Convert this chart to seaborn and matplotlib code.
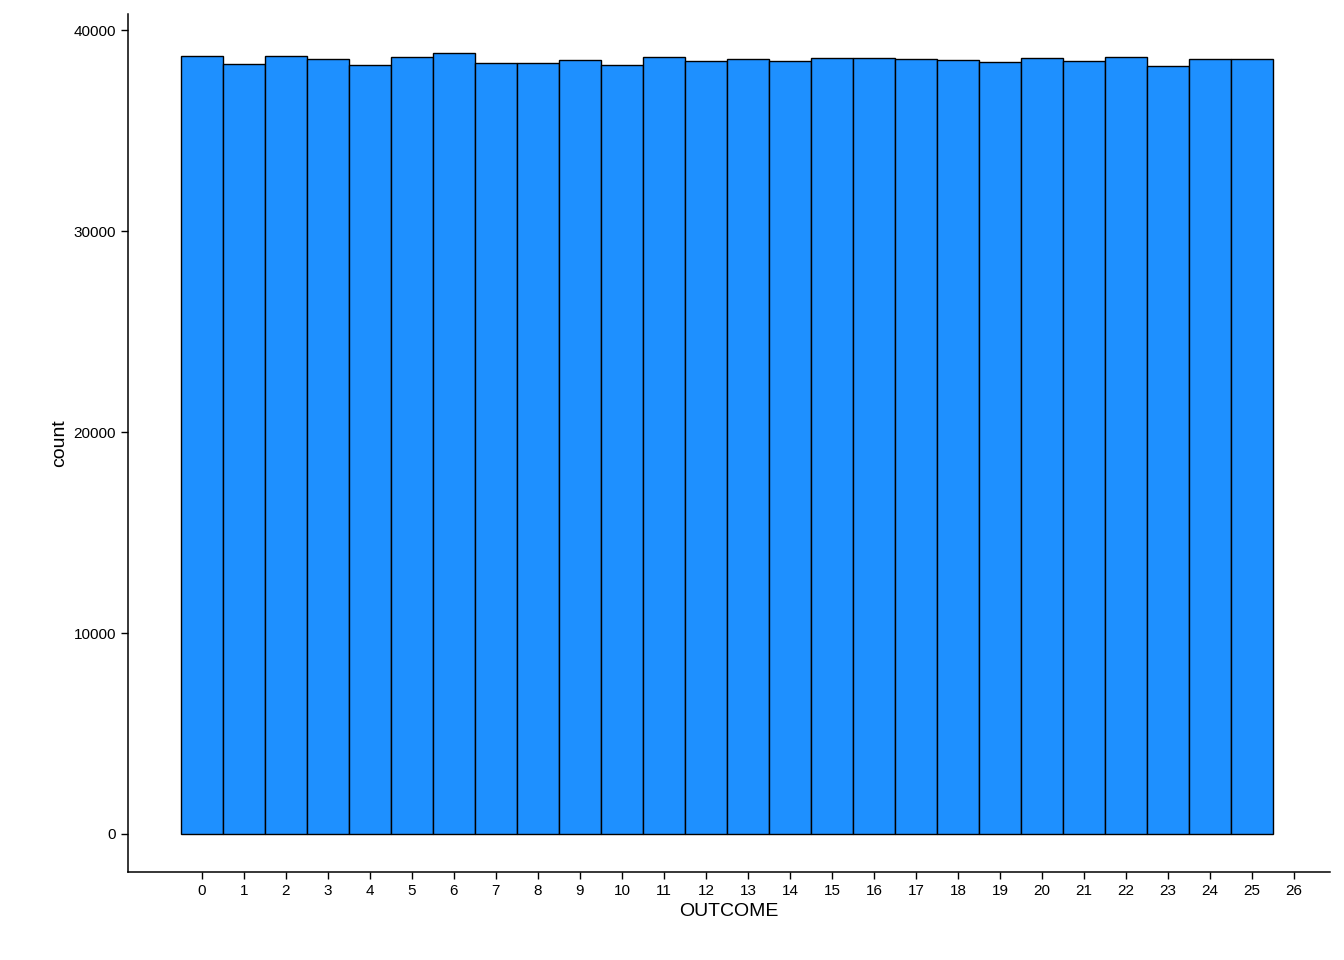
import matplotlib
matplotlib.use("Agg")
import matplotlib.pyplot as plt
import seaborn as sns
import pandas as pd

outcomes = list(range(26))
counts = [38706, 38308, 38706, 38557, 38259, 38657, 38856, 38358, 38358, 38507,
          38259, 38657, 38458, 38557, 38458, 38607, 38607, 38557, 38507, 38408,
          38607, 38458, 38657, 38209, 38557, 38557]
xticks = list(range(27))
yticks = [0, 10000, 20000, 30000, 40000]

sns.set_style("white")
plt.rcParams['font.family'] = ['Liberation Sans', 'DejaVu Sans']

df = pd.DataFrame({"OUTCOME": outcomes, "count": counts})
fig = plt.figure(figsize=(13.44, 9.6), dpi=100)
ax = fig.add_axes([0.0952, 0.0917, 0.8944, 0.8937])
sns.histplot(data=df, x="OUTCOME", weights="count", discrete=True, ax=ax,
             color="#1E90FF", edgecolor="black", linewidth=1, alpha=1)
ax.set_xlim(-1.76, 26.86)
ax.set_ylim(-1890, 40800)
ax.set_xticks(xticks)
ax.set_yticks(yticks)
ax.set_yticklabels([str(v) for v in yticks])
for s in ["top", "right"]:
    ax.spines[s].set_visible(False)
for s in ["left", "bottom"]:
    ax.spines[s].set_color("black")
    ax.spines[s].set_linewidth(1.1)
ax.tick_params(axis="both", which="both", length=5, width=1, color="black",
               labelsize=11, labelcolor="black", direction="out", left=True, bottom=True)
ax.set_xlabel("OUTCOME", fontsize=14, color="black")
ax.set_ylabel("count", fontsize=14, color="black")
fig.savefig("out.png", dpi=100)
